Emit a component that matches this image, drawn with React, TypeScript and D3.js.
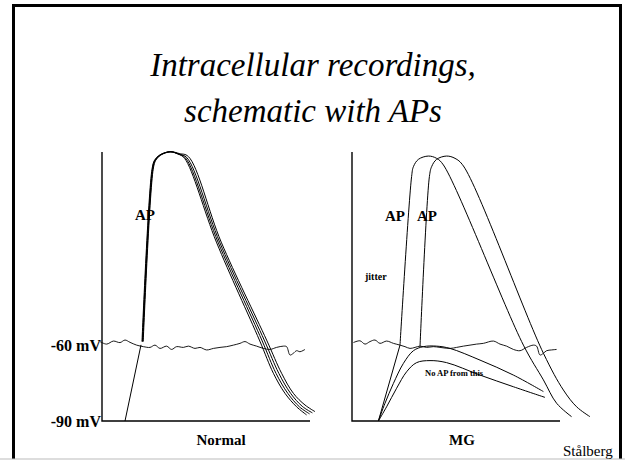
import React from "react";
import * as d3 from "d3";

type P = [number, number];

// ---- data (time in ms, potential in mV) ----
const titleLines = ["Intracellular recordings,", "schematic with APs"];
const yTickLabels = ["-60 mV", "-90 mV"];
const yTickValues = [-60, -90];
const panelNames = ["Normal", "MG"];

// Normal panel: endplate potential ramp
const normalEpp: P[] = [[1.15, -90], [1.95, -60]];
// Normal panel: four superimposed action potentials
const normalApA: P[] = [[2.0, -58.7], [2.5, 9.2], [2.63, 12.8], [2.88, 14.8], [3.38, 16.1], [3.8, 15.2], [4.13, 13.5], [5.72, -19.5], [7.87, -58.1], [8.57, -71.2], [9.15, -79.1], [9.73, -84.4], [10.23, -87.6]];
const normalApB: P[] = [[2.02, -58.7], [2.52, 9.2], [2.65, 12.8], [2.9, 14.8], [3.4, 16.1], [3.82, 15.2], [4.18, 13.6], [5.8, -19.5], [7.99, -58.1], [8.7, -71.2], [9.29, -79.1], [9.87, -84.4], [10.38, -87.2]];
const normalApC: P[] = [[2.04, -58.7], [2.54, 9.2], [2.67, 12.8], [2.92, 14.8], [3.42, 16.1], [3.84, 15.2], [4.24, 13.8], [5.88, -19.5], [8.11, -58.1], [8.84, -71.2], [9.43, -79.1], [10.01, -84.2], [10.52, -86.8]];
const normalApD: P[] = [[2.06, -58.7], [2.56, 9.2], [2.69, 12.8], [2.94, 14.8], [3.44, 16.1], [3.86, 15.4], [4.32, 14.2], [5.96, -19.5], [8.23, -58.1], [8.98, -71.2], [9.57, -79.1], [10.15, -83.7], [10.65, -86.3]];
const normalNoise: P[] = [[-0.1, -58.7], [0.23, -59.7], [0.57, -58.5], [0.9, -59.1], [1.15, -58.1], [1.4, -59.0], [1.73, -60.1], [2.07, -60.7], [2.4, -61.0], [2.65, -60.1], [2.9, -61.4], [3.23, -60.5], [3.48, -61.8], [3.73, -60.7], [4.07, -61.0], [4.32, -60.5], [4.65, -61.4], [4.9, -61.0], [5.23, -62.0], [5.57, -61.4], [5.9, -61.0], [6.23, -60.7], [6.57, -60.1], [6.9, -59.4], [7.15, -58.7], [7.4, -59.7], [7.73, -60.5], [8.07, -61.4], [8.4, -61.8], [8.73, -61.0], [9.07, -60.5], [9.23, -60.7], [9.4, -64.0], [9.57, -63.3], [9.73, -62.3], [9.9, -62.7], [10.15, -61.8]];

// MG panel
const mgEpp1: P[] = [[1.32, -90], [2.4, -60.1]];
const mgAp1: P[] = [[2.4, -60.1], [2.98, 6.3], [3.07, 10.2], [3.32, 13.1], [3.82, 14.4], [4.23, 13.5], [4.57, 10.9], [8.57, -60.1], [9.57, -73.8], [10.23, -83.0], [10.98, -88.3]];
const mgEpp2: P[] = [[1.32, -90], [1.65, -83.0], [2.07, -75.2], [2.57, -67.3], [3.07, -62.3], [3.57, -60.7], [4.23, -60.5], [4.9, -61.4], [6.4, -66.0], [8.07, -71.9], [9.57, -78.4]];
const mgAp2: P[] = [[3.4, -60.7], [3.87, 6.3], [3.98, 10.2], [4.23, 13.1], [4.73, 14.4], [5.15, 13.5], [5.57, 10.5], [9.57, -63.3], [10.57, -77.8], [11.23, -84.4], [11.9, -88.3]];
const mgEpp3: P[] = [[1.32, -90], [1.73, -84.4], [2.23, -77.1], [2.73, -70.6], [3.23, -67.0], [3.9, -66.2], [4.73, -67.0], [6.4, -71.9], [8.07, -76.5], [9.65, -80.7]];
const mgNoise: P[] = [[0.07, -59.1], [0.4, -58.4], [0.65, -59.7], [0.9, -58.7], [1.15, -58.1], [1.4, -59.4], [1.73, -58.5], [2.07, -59.4], [2.4, -60.1], [2.65, -60.7], [2.9, -61.4], [3.15, -61.0], [3.4, -60.5], [3.73, -61.0], [4.07, -60.7], [4.4, -61.0], [4.9, -61.4], [5.23, -61.0], [5.57, -60.5], [5.9, -60.1], [6.23, -59.7], [6.57, -59.4], [7.07, -58.5], [7.4, -59.7], [7.73, -60.5], [8.07, -61.8], [8.4, -62.3], [8.73, -61.0], [9.07, -60.1], [9.23, -60.5], [9.4, -64.0], [9.57, -63.3], [9.73, -62.3], [9.98, -62.0], [10.23, -61.8]];

// annotation anchors (ms, mV)
const normalApLabel: P = [1.65, -10.8];
const mgApLabels: P[] = [[1.65, -11.1], [3.25, -11.1]];
const mgJitterLabel: P = [0.65, -34.4];
const mgNoApLabel: P = [3.65, -72.3];

const W = 625;
const H = 461;

export default function App() {
  const y = d3.scaleLinear().domain([-90, 16]).range([421, 152]);
  const xL = d3.scaleLinear().domain([0, 10.4]).range([102, 310]);
  const xR = d3.scaleLinear().domain([0, 10.4]).range([352, 560]);

  const smooth = (x: d3.ScaleLinear<number, number>) =>
    d3.line<P>().x((d) => x(d[0])).y((d) => y(d[1])).curve(d3.curveCatmullRom.alpha(0.5));
  const straight = (x: d3.ScaleLinear<number, number>) =>
    d3.line<P>().x((d) => x(d[0])).y((d) => y(d[1]));

  const sL = smooth(xL), sR = smooth(xR), lL = straight(xL), lR = straight(xR);
  const font = "'Liberation Serif', 'Times New Roman', serif";
  const [y0, y1] = y.range();

  const axes = (x: d3.ScaleLinear<number, number>) => {
    const [a, b] = x.range();
    return (
      <path d={`M${a},${y1}V${y0}H${b}`} fill="none" stroke="#000" strokeWidth={1.4} />
    );
  };

  return (
    <svg width={W} height={H} viewBox={`0 0 ${W} ${H}`} style={{ position: "fixed", left: 0, top: 0, display: "block", background: "#fff" }}>
      <rect x={0} y={0} width={W} height={H} fill="#fff" />
      {/* slide frame */}
      <rect x={12} y={4} width={3} height={455} fill="#000" />
      <rect x={12} y={4} width={610} height={3} fill="#000" />
      <rect x={619} y={4} width={3} height={455} fill="#000" />
      <rect x={0} y={458.5} width={W} height={1} fill="#bbb" />

      {titleLines.map((t, i) => (
        <text key={t} x={313} y={76 + i * 46} textAnchor="middle" fontFamily={font} fontStyle="italic" fontSize={33} fill="#000">
          {t}
        </text>
      ))}

      {/* Normal panel */}
      {axes(xL)}
      <path d={sL(normalNoise) || ""} fill="none" stroke="#000" strokeWidth={0.9} />
      <path d={lL(normalEpp) || ""} fill="none" stroke="#000" strokeWidth={1} />
      {[normalApA, normalApB, normalApC, normalApD].map((d, i) => (
        <path key={i} d={sL(d) || ""} fill="none" stroke="#000" strokeWidth={1} />
      ))}
      <text x={xL(normalApLabel[0])} y={y(normalApLabel[1])} fontFamily={font} fontWeight="bold" fontSize={15}>AP</text>

      {/* MG panel */}
      {axes(xR)}
      <path d={sR(mgNoise) || ""} fill="none" stroke="#000" strokeWidth={0.9} />
      <path d={lR(mgEpp1) || ""} fill="none" stroke="#000" strokeWidth={1} />
      <path d={sR(mgEpp2) || ""} fill="none" stroke="#000" strokeWidth={1} />
      <path d={sR(mgEpp3) || ""} fill="none" stroke="#000" strokeWidth={1} />
      <path d={sR(mgAp1) || ""} fill="none" stroke="#000" strokeWidth={1} />
      <path d={sR(mgAp2) || ""} fill="none" stroke="#000" strokeWidth={1} />
      {mgApLabels.map((p, i) => (
        <text key={i} x={xR(p[0])} y={y(p[1])} fontFamily={font} fontWeight="bold" fontSize={15}>AP</text>
      ))}
      <text x={xR(mgJitterLabel[0])} y={y(mgJitterLabel[1])} fontFamily={font} fontWeight="bold" fontSize={10}>jitter</text>
      <text x={xR(mgNoApLabel[0])} y={y(mgNoApLabel[1])} fontFamily={font} fontWeight="bold" fontSize={8.5}>No AP from this</text>

      {/* y labels */}
      {yTickLabels.map((t, i) => (
        <text key={t} x={101} y={y(yTickValues[i]) + 6} textAnchor="end" fontFamily={font} fontWeight="bold" fontSize={16}>{t}</text>
      ))}

      {/* panel names */}
      <text x={221} y={445} textAnchor="middle" fontFamily={font} fontWeight="bold" fontSize={15}>{panelNames[0]}</text>
      <text x={462} y={445} textAnchor="middle" fontFamily={font} fontWeight="bold" fontSize={15}>{panelNames[1]}</text>

      <text x={563} y={456} fontFamily={font} fontSize={15}>Stålberg</text>
    </svg>
  );
}
